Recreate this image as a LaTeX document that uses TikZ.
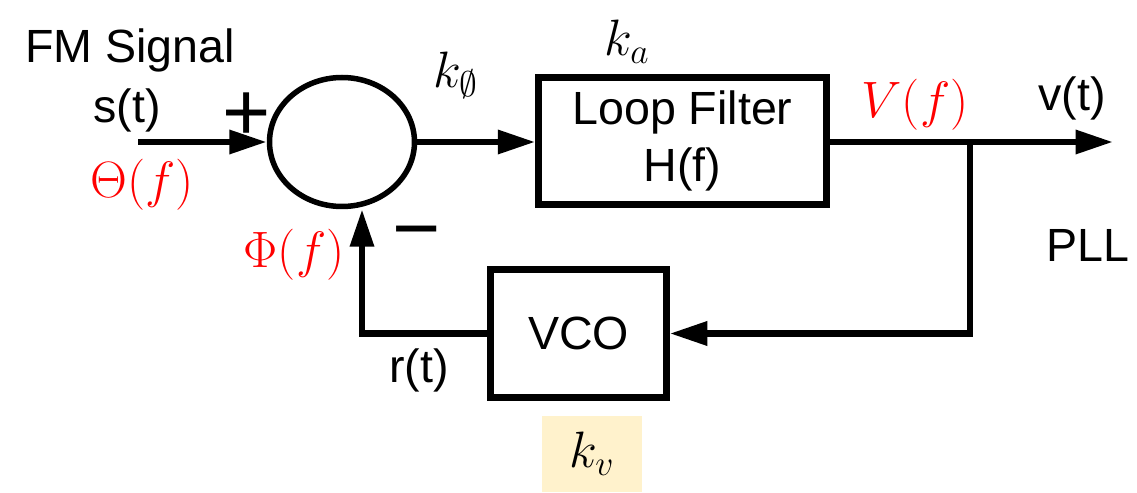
\documentclass[tikz,border=0pt]{standalone}
\usepackage[no-math]{fontspec}
\setmainfont{Liberation Sans}
\usepackage{amssymb}
\usetikzlibrary{shapes.geometric, arrows.meta, positioning}
\definecolor{kvbg}{HTML}{FFF2CC}
\newcommand{\bigtxt}{\fontsize{26.5}{32}\selectfont}
\newcommand{\signtxt}{\fontsize{47}{50}\selectfont}

\begin{document}
\begin{tikzpicture}[
        line width=0.13cm,
        blk/.style={draw, line width=0.13cm, font=\bigtxt, align=center, inner sep=0pt},
        lbl/.style={font=\bigtxt, inner sep=0pt},
        mlbl/.style={font=\bigtxt, inner sep=0pt, scale=1.17},
        sig/.style={-{Triangle[length=0.75cm, width=0.46cm]}}
    ]
        \useasboundingbox (0, 0) rectangle (22.74, 9.84);

        \node[ellipse, draw, line width=0.11cm, minimum width=2.9cm, minimum height=2.58cm] (sum) at (6.84, 7) {};
        \node[blk, minimum width=5.76cm, minimum height=2.54cm] (lf) at (13.65, 7.02) {Loop Filter\\H(f)};
        \node[blk, minimum width=3.52cm, minimum height=2.56cm] (vco) at (11.57, 3.17) {VCO};

        \coordinate (in) at (2.76, 7);
        \coordinate (out) at (22.26, 7);
        \coordinate (tap) at (19.4, 7);
        \coordinate (fb) at (7.24, 3.17);

        \draw[sig] (in) -- (sum.west);
        \draw[sig] (sum.east) -- (lf.west |- sum.east);
        \draw[sig] (lf.east |- out) -- (out);
        \draw[sig] (tap) |- (vco.east);
        \draw[sig] (vco.west) -- (fb) -- (fb |- sum.south);

        % labels
        \node[lbl, anchor=base west] (fmlbl) at (0.44, 8.58) {FM Signal};
        \node[lbl] (slbl) at (2.54, 7.64) {s(t)};
        \node[mlbl, text=red] (thetalbl) at (2.84, 6.14) {$\mathrm{\Theta}(f)$};
        \node[font=\signtxt, inner sep=0pt] (plus) at (4.94, 7.5) {+};
        \node[font=\signtxt, inner sep=0pt] (minus) at (8.34, 5.02) {−};
        \node[mlbl, text=red] (philbl) at (5.88, 4.74) {$\mathrm{\Phi}(f)$};
        \node[mlbl] (kphi) at (9.12, 8.34) {$k_{\emptyset}$};
        \node[mlbl] (ka) at (12.54, 9) {$k_a$};
        \node[mlbl, text=red] (vflbl) at (18.3, 7.74) {$V(f)$};
        \node[lbl] (vtlbl) at (21.44, 7.88) {v(t)};
        \node[lbl] (pll) at (21.76, 4.94) {PLL};
        \node[lbl] (rtlbl) at (8.38, 2.44) {r(t)};
        \node[fill=kvbg, minimum width=2cm, minimum height=1.52cm] (kv) at (11.84, 0.76) {};
        \node[mlbl] (kvlbl) at (kv) {$k_v$};
\end{tikzpicture}
\end{document}
